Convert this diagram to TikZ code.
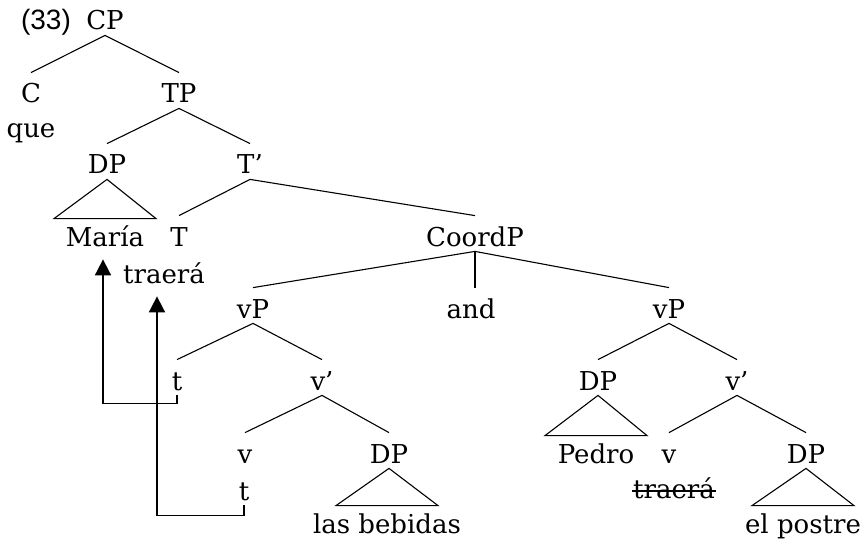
\documentclass[tikz,border=0pt]{standalone}
\usepackage{fontspec}
\setmainfont{DejaVu Serif}
\newfontfamily\exfont{Liberation Sans}
\usetikzlibrary{arrows.meta,calc}

\begin{document}
\begin{tikzpicture}[
        x=0.5pt, y=-0.5pt,
        every node/.style={anchor=base, inner sep=1pt, text height=14pt, text depth=1.5pt, font=\fontsize{13}{15}\selectfont},
        exn/.style={font=\exfont\fontsize{14}{16}\selectfont},
        branch/.style={draw, line width=0.55pt},
        move/.style={draw, line width=0.9pt, -{Triangle[width=8pt,length=8pt]}, shorten >=4pt},
    ]
    \useasboundingbox (0,0) rectangle (862,540);
    % labels
    \node[exn] (ex) at (46,30) {(33)};
    \node (cp) at (105,30) {CP};
    \node (c) at (31,103) {C};
    \node (que) at (31,138) {que};
    \node (tp) at (179,103) {TP};
    \node (dp1) at (107,174) {DP};
    \node (tbar) at (250,174) {T’};
    \node (maria) at (105,246) {María};
    \node (t) at (179,246) {T};
    \node (traera1) at (164,283) {traerá};
    \node (coordp) at (475,246) {CoordP};
    \node (vp1) at (253,318) {vP};
    \node (and) at (471,318) {and};
    \node (vp2) at (669,318) {vP};
    \node (trace1) at (177,390) {t};
    \node (vbar1) at (322,390) {v’};
    \node (v1) at (245,463) {v};
    \node (dp2) at (389,463) {DP};
    \node (trace2) at (244,500) {t};
    \node (bebidas) at (387,533) {las bebidas};
    \node (dp3) at (598,390) {DP};
    \node (vbar2) at (737,390) {v’};
    \node (pedro) at (596,463) {Pedro};
    \node (v2) at (669,463) {v};
    \node (dp4) at (806,463) {DP};
    \node (traera2) at (674,498) {traerá};
    \node (postre) at (803,533) {el postre};
    % strike through the copy
    \draw[line width=0.7pt] ($(traera2.base west)+(1,-7)$) -- ($(traera2.base east)+(-1,-7)$);
    % branches
    \foreach \a/\b in {cp/c, cp/tp, tp/dp1, tp/tbar, tbar/t, tbar/coordp,
            coordp/vp1, coordp/vp2, vp1/trace1, vp1/vbar1,
            vbar1/v1, vbar1/dp2, vp2/dp3, vp2/vbar2, vbar2/v2, vbar2/dp4}
        \draw[branch] (\a.south) -- (\b.north);
    \draw[branch] (coordp.south) -- (coordp.south |- and.north);
    % triangles
    \foreach \a/\b in {dp1/maria, dp2/bebidas, dp3/pedro, dp4/postre}
        \draw[branch] (\a.south) -- ($(\b.north)+(-51,3)$) -- ($(\b.north)+(51,3)$) -- cycle;
    % movement
    \draw[move] (trace1.south) -- ++(0,8) -| ([xshift=-1pt]maria.south);
    \draw[move] (trace2.south) -- ++(0,10) -| ([xshift=-3.5pt]traera1.south);
\end{tikzpicture}
\end{document}
